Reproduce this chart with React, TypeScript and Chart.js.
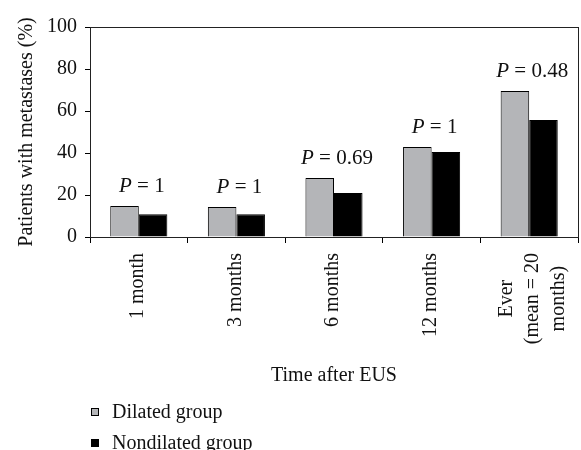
import React, { useEffect, useRef } from "react";
import { Chart, registerables } from "chart.js";

Chart.register(...registerables);

const categories: (string | string[])[] = [
  "1 month",
  "3 months",
  "6 months",
  "12 months",
  ["Ever", "(mean = 20", "months)"],
];
const dilated = [14.8, 14.3, 28.1, 42.9, 69.5];
const nondilated = [10.8, 10.8, 21.0, 40.5, 55.7];
const pValues = ["1", "1", "0.69", "1", "0.48"];
const seriesNames = ["Dilated group", "Nondilated group"];
const yTicks = [0, 20, 40, 60, 80, 100];

const FONT = "'Liberation Serif', 'Times New Roman', serif";
const GREY = "#b4b5b8";

const boxPlugin = {
  id: "plotBox",
  afterDatasetsDraw(chart: any) {
    const { ctx, chartArea } = chart;
    ctx.save();
    ctx.strokeStyle = "#222";
    ctx.lineWidth = 1;
    ctx.strokeRect(
      Math.round(chartArea.left) + 0.5,
      Math.round(chartArea.top) + 0.5,
      Math.round(chartArea.right - chartArea.left),
      Math.round(chartArea.bottom - chartArea.top)
    );
    ctx.restore();
  },
};

// Rotated category labels, multi-line labels centred on their longest line
const xLabelPlugin = {
  id: "xLabels",
  afterDraw(chart: any) {
    const { ctx, scales } = chart;
    const x = scales.x;
    const y0 = x.top + 16;
    const lineGap = 26;
    ctx.save();
    ctx.font = `20px ${FONT}`;
    ctx.fillStyle = "#111";
    ctx.textBaseline = "middle";
    categories.forEach((lab, i) => {
      const lines = Array.isArray(lab) ? lab : [lab];
      const cx = x.getPixelForValue(i) + (lines.length > 1 ? 4 : -1);
      const widths = lines.map((l) => ctx.measureText(l).width);
      const maxW = Math.max(...widths);
      lines.forEach((l, j) => {
        const lx = cx + (j - (lines.length - 1) / 2) * lineGap;
        const shift = (maxW - widths[j]) / 2;
        ctx.save();
        ctx.translate(lx, y0 + shift);
        ctx.rotate(-Math.PI / 2);
        ctx.textAlign = "right";
        ctx.fillText(l, 0, 0);
        ctx.restore();
      });
    });
    ctx.restore();
  },
};

const pLabelPlugin = {
  id: "pLabels",
  afterDatasetsDraw(chart: any) {
    const { ctx, scales } = chart;
    const x = scales.x;
    const y = scales.y;
    ctx.save();
    ctx.fillStyle = "#111";
    ctx.textBaseline = "alphabetic";
    pValues.forEach((p, i) => {
      const top = Math.max(dilated[i], nondilated[i]);
      const cx = x.getPixelForValue(i) + 3;
      const cy = y.getPixelForValue(top) - 14;
      const italic = `italic 21px ${FONT}`;
      const normal = `21px ${FONT}`;
      ctx.font = italic;
      const wP = ctx.measureText("P").width;
      const rest = " = " + p;
      ctx.font = normal;
      const wR = ctx.measureText(rest).width;
      const start = cx - (wP + wR) / 2;
      ctx.font = italic;
      ctx.textAlign = "left";
      ctx.fillText("P", start, cy);
      ctx.font = normal;
      ctx.fillText(rest, start + wP, cy);
    });
    ctx.restore();
  },
};

const legendPlugin = {
  id: "stackLegend",
  afterDraw(chart: any) {
    const { ctx } = chart;
    const colors = [GREY, "#000"];
    const rows = [412, 443];
    ctx.save();
    ctx.font = `20px ${FONT}`;
    ctx.textBaseline = "middle";
    ctx.textAlign = "left";
    seriesNames.forEach((name, i) => {
      const yy = rows[i];
      ctx.fillStyle = colors[i];
      ctx.fillRect(91, yy - 4, 8, 8);
      ctx.strokeStyle = "#000";
      ctx.lineWidth = 1;
      ctx.strokeRect(91.5, yy - 3.5, 7, 7);
      ctx.fillStyle = "#111";
      ctx.fillText(name, 112, yy + 1);
    });
    ctx.restore();
  },
};

export default function App() {
  const ref = useRef<HTMLCanvasElement>(null);
  useEffect(() => {
    if (!ref.current) return;
    const chart = new Chart(ref.current, {
      type: "bar",
      data: {
        labels: categories,
        datasets: [
          {
            label: seriesNames[0],
            data: dilated,
            backgroundColor: GREY,
            borderColor: "#000",
            borderWidth: 1,
          },
          {
            label: seriesNames[1],
            data: nondilated,
            backgroundColor: "#000",
            borderColor: "#000",
            borderWidth: 1,
          },
        ],
      },
      options: {
        animation: false,
        responsive: true,
        maintainAspectRatio: false,
        layout: { padding: { top: 27, right: 3, left: 0, bottom: 62 } },
        plugins: {
          legend: { display: false },
          tooltip: { enabled: false },
        },
        datasets: {
          bar: { categoryPercentage: 0.585, barPercentage: 1 },
        },
        scales: {
          x: {
            grid: {
              drawOnChartArea: false,
              drawTicks: true,
              tickLength: 6,
              color: "#000",
              offset: true,
            },
            border: { color: "#000", width: 1 },
            ticks: {
              minRotation: 90,
              maxRotation: 90,
              autoSkip: false,
              padding: 10,
              color: "rgba(0,0,0,0)",
              font: { family: FONT, size: 20, lineHeight: 1.25 },
            },
            title: {
              display: true,
              text: "Time after EUS",
              color: "#111",
              font: { family: FONT, size: 20 },
              padding: { top: 4, bottom: 0 },
            },
            afterFit(scale: any) {
              scale.height = 151;
              scale.paddingLeft = 0;
              scale.paddingRight = 0;
            },
          },
          y: {
            min: 0,
            max: 100,
            grid: {
              drawOnChartArea: false,
              drawTicks: true,
              tickLength: 5,
              color: "#000",
            },
            border: { color: "#000", width: 1 },
            ticks: {
              stepSize: 10,
              padding: 8,
              color: "#111",
              font: { family: FONT, size: 20 },
              callback: (v: any) => (yTicks.includes(Number(v)) ? String(v) : ""),
            },
            title: {
              display: true,
              text: "Patients with metastases (%)",
              color: "#111",
              font: { family: FONT, size: 20 },
              padding: { top: 15, bottom: 0 },
            },
            afterFit(scale: any) {
              scale.width = 90;
              scale.paddingTop = 0;
              scale.paddingBottom = 0;
            },
          },
        },
      },
      plugins: [boxPlugin, pLabelPlugin, xLabelPlugin, legendPlugin],
    });
    return () => chart.destroy();
  }, []);
  return (
    <div style={{ position: "fixed", left: 0, top: 0, width: 581, height: 450, background: "#fff" }}>
      <canvas ref={ref} />
    </div>
  );
}
